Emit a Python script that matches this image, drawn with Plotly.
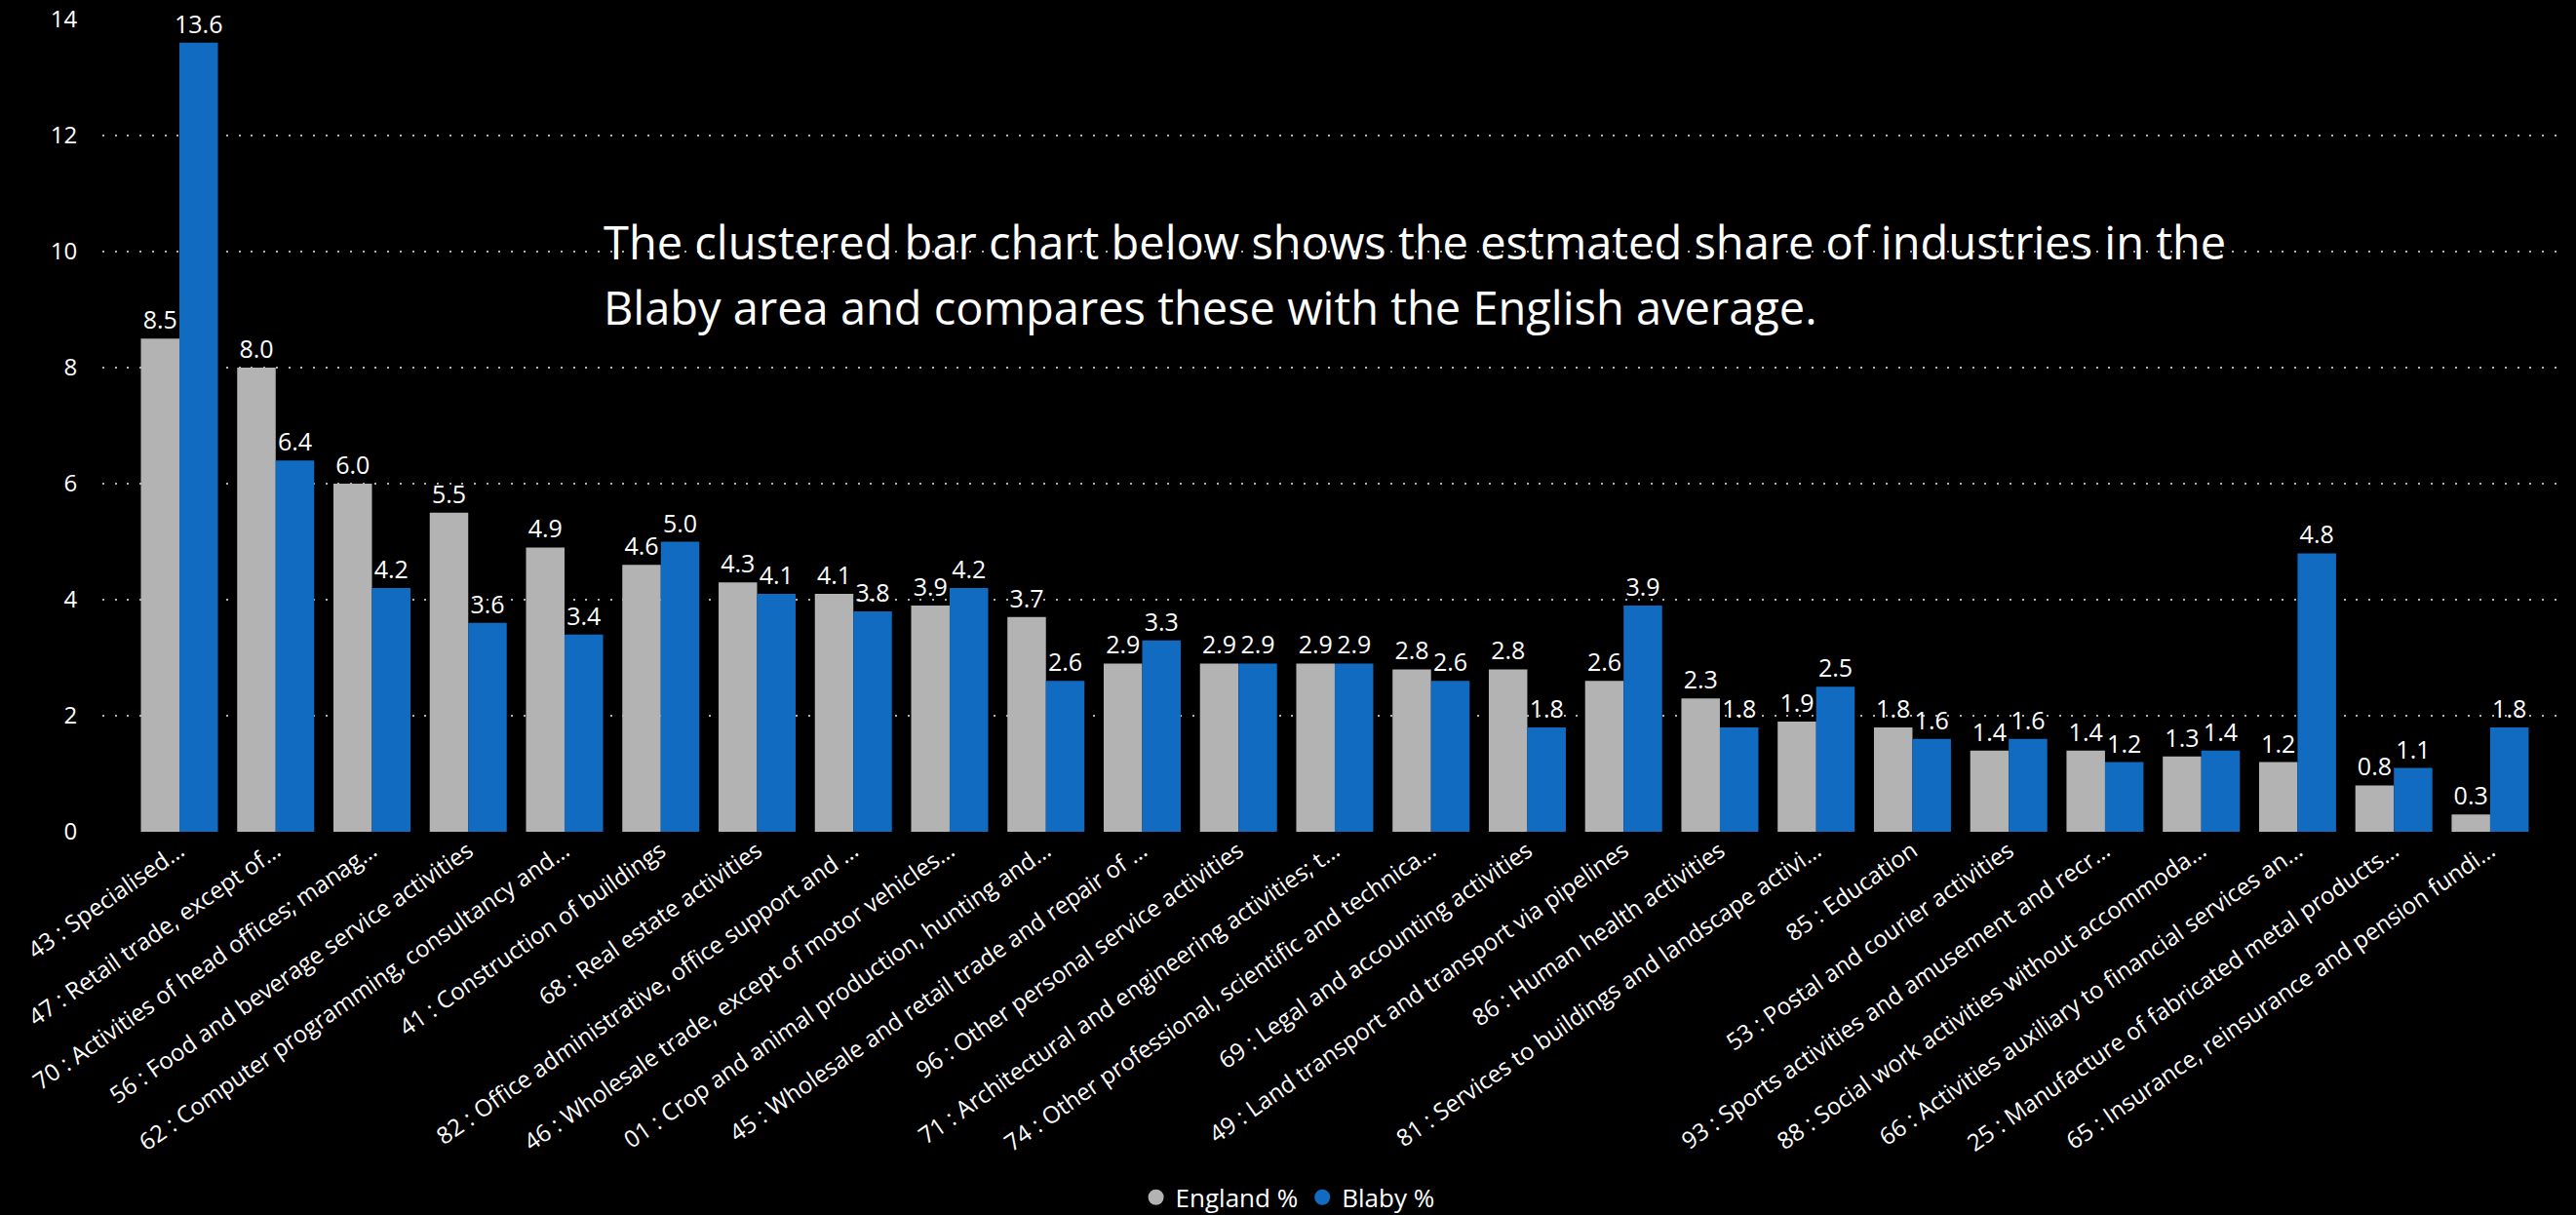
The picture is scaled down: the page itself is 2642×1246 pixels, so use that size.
import plotly.graph_objects as go

categories = [
    "43 : Specialised…",
    "47 : Retail trade, except of…",
    "70 : Activities of head offices; manag…",
    "56 : Food and beverage service activities",
    "62 : Computer programming, consultancy and…",
    "41 : Construction of buildings",
    "68 : Real estate activities",
    "82 : Office administrative, office support and …",
    "46 : Wholesale trade, except of motor vehicles…",
    "01 : Crop and animal production, hunting and…",
    "45 : Wholesale and retail trade and repair of …",
    "96 : Other personal service activities",
    "71 : Architectural and engineering activities; t…",
    "74 : Other professional, scientific and technica…",
    "69 : Legal and accounting activities",
    "49 : Land transport and transport via pipelines",
    "86 : Human health activities",
    "81 : Services to buildings and landscape activi…",
    "85 : Education",
    "53 : Postal and courier activities",
    "93 : Sports activities and amusement and recr…",
    "88 : Social work activities without accommoda…",
    "66 : Activities auxiliary to financial services an…",
    "25 : Manufacture of fabricated metal products…",
    "65 : Insurance, reinsurance and pension fundi…",
]

england_pct = [8.5, 8.0, 6.0, 5.5, 4.9, 4.6, 4.3, 4.1, 3.9, 3.7, 2.9, 2.9, 2.9,
               2.8, 2.8, 2.6, 2.3, 1.9, 1.8, 1.4, 1.4, 1.3, 1.2, 0.8, 0.3]
blaby_pct = [13.6, 6.4, 4.2, 3.6, 3.4, 5.0, 4.1, 3.8, 4.2, 2.6, 3.3, 2.9, 2.9,
             2.6, 1.8, 3.9, 1.8, 2.5, 1.6, 1.6, 1.2, 1.4, 4.8, 1.1, 1.8]

y_ticks = [0, 2, 4, 6, 8, 10, 12, 14]

series_names = ["England %", "Blaby %"]
title_lines = [
    "The clustered bar chart below shows the estmated share of industries in the",
    "Blaby area and compares these with the English average.",
]
GREY = "#B3B3B3"
BLUE = "#116BC1"
FONT = "Open Sans, Noto Sans, sans-serif"

fig = go.Figure()
for name, vals, col in [(series_names[0], england_pct, GREY),
                        (series_names[1], blaby_pct, BLUE)]:
    fig.add_trace(go.Bar(
        x=categories, y=vals, name=name, marker=dict(color=col, line=dict(width=0)),
        texttemplate="%{y:.1f}", textposition="outside", cliponaxis=False,
        constraintext="none",
        textfont=dict(color="#FFFFFF", size=25, family=FONT),
        showlegend=False,
    ))
    # legend entries with round symbols
    fig.add_trace(go.Scatter(
        x=[None], y=[None], mode="markers", name=name,
        marker=dict(symbol="circle", size=16, color=col), showlegend=True,
    ))

for line, ypos in zip(title_lines, [0.7263, 0.6459]):
    fig.add_annotation(
        text=line, xref="paper", yref="paper", x=0.203, y=ypos,
        xanchor="left", yanchor="middle", align="left", showarrow=False,
        font=dict(color="#FFFFFF", size=47, family=FONT),
    )

fig.update_layout(
    width=2642, height=1246,
    paper_bgcolor="#000000", plot_bgcolor="#000000",
    margin=dict(l=105, r=14, t=20, b=393, autoexpand=False),
    barmode="group", bargap=0.2, bargroupgap=0,
    font=dict(family=FONT, color="#FFFFFF"),
    legend=dict(orientation="h", x=0.482, xanchor="center", y=-0.45, yanchor="middle",
                font=dict(size=26, color="#FFFFFF", family=FONT),
                itemwidth=30, bgcolor="rgba(0,0,0,0)"),
    xaxis=dict(type="category", range=[-0.8, 24.75], tickangle=-35,
               tickfont=dict(size=24, color="#FFFFFF", family=FONT),
               showgrid=False, zeroline=False, showline=False, ticks="", automargin=False),
    yaxis=dict(range=[0, 14], tickvals=y_ticks, showgrid=True,
               gridcolor="#B0B0B0", gridwidth=2, griddash="2px,10.7px",
               zeroline=False, showline=False, ticks="outside", ticklen=20,
               tickcolor="rgba(0,0,0,0)",
               tickfont=dict(size=24, color="#FFFFFF", family=FONT), automargin=False),
)

fig.write_html(
    "out.html",
    config={"displayModeBar": False},
    post_script="document.body.style.margin='0';document.body.style.background='#000';",
)
